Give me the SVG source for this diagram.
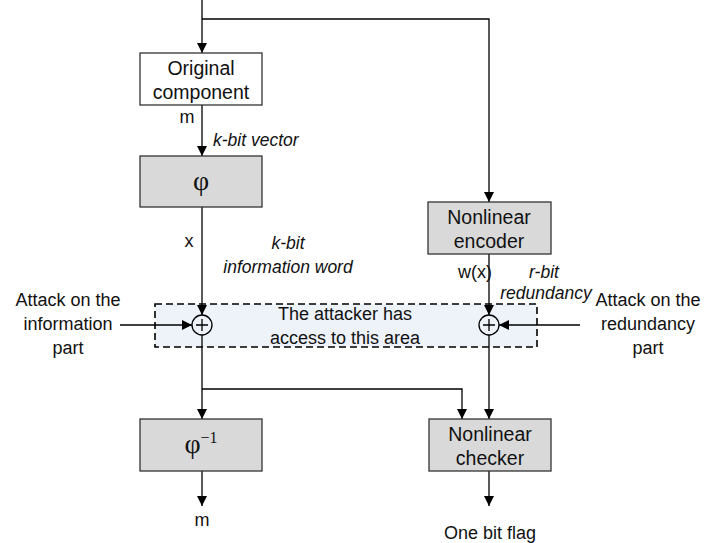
<svg xmlns="http://www.w3.org/2000/svg" width="717" height="543" viewBox="0 0 717 543">
<defs>
<marker id="ah" markerWidth="10" markerHeight="10" viewBox="0 0 10 10" refX="10" refY="5" orient="auto" markerUnits="userSpaceOnUse">
<path d="M0,0 L10,5 L0,10 Z" fill="#000"/>
</marker>
<style>
.box{stroke:#333;stroke-width:1.3}
.g{fill:#d9d9d9}
.w{fill:#fff}
.t{font-family:"Liberation Sans",Arial,sans-serif;font-size:18px;fill:#111;text-anchor:middle}
.bt{font-family:"Liberation Sans",Arial,sans-serif;font-size:19.5px;fill:#111;text-anchor:middle}
.i{font-style:italic;font-size:17.5px}
.ph{font-family:"Liberation Serif","Times New Roman",serif;font-size:28px;fill:#111;text-anchor:middle}
.ln{fill:none;stroke:#000;stroke-width:1.3}
.ar{fill:none;stroke:#000;stroke-width:1.3;marker-end:url(#ah)}
</style>
</defs>
<rect width="717" height="543" fill="#fff"/>
<g id="attack-area">
<rect x="155" y="304" width="382" height="43" fill="#eef2f9" stroke="#000" stroke-width="1.6" stroke-dasharray="7,4"/>
<text class="t" x="345" y="320">The attacker has</text>
<text class="t" x="345" y="344">access to this area</text>
</g>
<g id="connectors">
<path class="ar" d="M202,0 V53"/>
<path class="ar" d="M202,19 H489 V202"/>
<path class="ar" d="M202,105 V156"/>
<path class="ar" d="M202,207 V315"/>
<path class="ar" d="M489,254 V315"/>
<path class="ar" d="M120,325 H192"/>
<path class="ar" d="M580,325 H499"/>
<path class="ar" d="M202,335 V419"/>
<path class="ar" d="M202,389 H462 V419"/>
<path class="ar" d="M489,335 V419"/>
<path class="ar" d="M202,471 V506"/>
<path class="ar" d="M489,471 V506"/>
</g>
<g id="original-component">
<rect class="box w" x="140" y="53" width="122" height="52"/>
<text class="bt" x="201" y="75">Original</text>
<text class="bt" x="201" y="99">component</text>
</g>
<g id="phi">
<rect class="box g" x="140" y="156" width="122" height="51"/>
<text class="ph" x="201" y="190">φ</text>
</g>
<g id="nonlinear-encoder">
<rect class="box g" x="428" y="202" width="123" height="52"/>
<text class="bt" x="489" y="224">Nonlinear</text>
<text class="bt" x="489" y="248">encoder</text>
</g>
<g id="xor-info">
<circle cx="202" cy="325" r="10" fill="#eef2f9" stroke="#000" stroke-width="1.3"/>
<path class="ln" d="M196,325 H208 M202,319 V331"/>
</g>
<g id="xor-red">
<circle cx="489" cy="325" r="10" fill="#eef2f9" stroke="#000" stroke-width="1.3"/>
<path class="ln" d="M483,325 H495 M489,319 V331"/>
</g>
<g id="phi-inv">
<rect class="box g" x="140" y="419" width="122" height="52"/>
<text class="ph" x="201" y="453">φ<tspan font-size="16" dy="-10">−1</tspan></text>
</g>
<g id="nonlinear-checker">
<rect class="box g" x="429" y="419" width="122" height="52"/>
<text class="bt" x="490" y="441">Nonlinear</text>
<text class="bt" x="490" y="465">checker</text>
</g>
<g id="labels">
<text class="t" x="187" y="123">m</text>
<text class="t i" x="213" y="146" style="text-anchor:start">k-bit vector</text>
<text class="t" x="189" y="247">x</text>
<text class="t i" x="288" y="249">k-bit</text>
<text class="t i" x="288" y="273">information word</text>
<text class="t" x="475" y="278">w(x)</text>
<text class="t i" x="544" y="278">r-bit</text>
<text class="t i" x="546" y="299">redundancy</text>
<text class="t" x="68" y="306">Attack on the</text>
<text class="t" x="68" y="330">information</text>
<text class="t" x="68" y="354">part</text>
<text class="t" x="648" y="306">Attack on the</text>
<text class="t" x="648" y="330">redundancy</text>
<text class="t" x="648" y="354">part</text>
<text class="t" x="202" y="526">m</text>
<text class="t" x="490" y="539">One bit flag</text>
</g>
</svg>
